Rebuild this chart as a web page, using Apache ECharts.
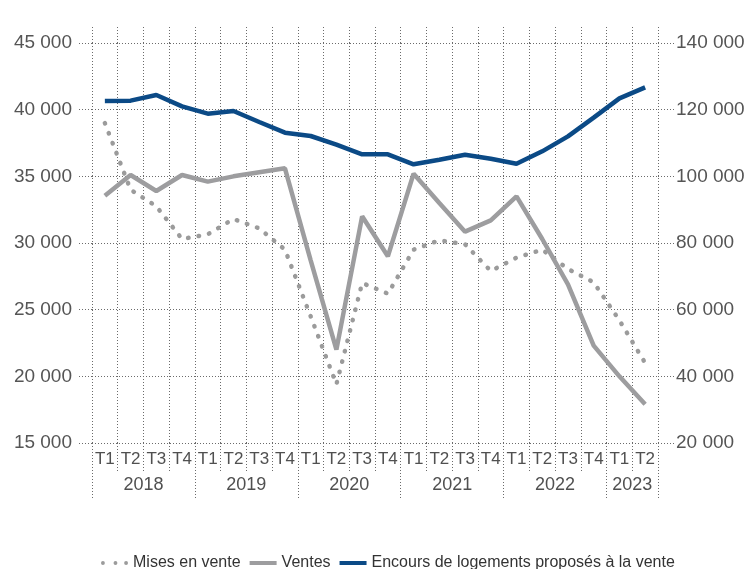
<!DOCTYPE html>
<html>
<head>
<meta charset="utf-8">
<script src="https://cdn.jsdelivr.net/npm/echarts@6/dist/echarts.min.js"></script>
<style>
  html, body { margin: 0; padding: 0; background: #fff; }
  #chart { width: 748px; height: 569px; }
</style>
</head>
<body>
<div id="chart"></div>
<script>
// quarters T1 2018 .. T2 2023
var quarters = ['T1', 'T2', 'T3', 'T4', 'T1', 'T2', 'T3', 'T4', 'T1', 'T2', 'T3', 'T4',
  'T1', 'T2', 'T3', 'T4', 'T1', 'T2', 'T3', 'T4', 'T1', 'T2'];
var years = ['2018', '2019', '2020', '2021', '2022', '2023'];
var yearBounds = [0, 4, 8, 12, 16, 20, 22];   // year separators, in quarters
var yearCenters = [2, 6, 10, 14, 18, 21];

var misesEnVente = [39000, 34000, 32750, 30300, 30650, 31800, 31100, 29500, 24500, 19400, 27000,
  26200, 29500, 30200, 29900, 27900, 28900, 29500, 28050, 27050, 24200, 21000];
var ventes = [33550, 35100, 33900, 35100, 34600, 35000, 35300, 35600, 28700, 22000, 32000,
  29000, 35200, 33000, 30850, 31700, 33500, 30300, 26900, 22300, 20000, 17900];
var encours = [122600, 122700, 124400, 121000, 118800, 119600, 116300, 113100, 112100, 109500, 106600,
  106600, 103600, 105000, 106500, 105300, 103800, 107500, 112000, 117600, 123400, 126700];

var FONT = "'Liberation Sans', Arial, sans-serif";
var GRIDC = '#6b6b6b';
var dots = [1, 2];
var threeDots = 'path://M0,2a2,2 0 1,0 4,0a2,2 0 1,0 -4,0M13,2a2,2 0 1,0 4,0a2,2 0 1,0 -4,0M24,2a2,2 0 1,0 4,0a2,2 0 1,0 -4,0';

function fmt(v) {
  return String(v).replace(/\B(?=(\d{3})+(?!\d))/g, ' ');
}

var chart = echarts.init(document.getElementById('chart'));

var option = {
  animation: false,
  grid: { left: 92, right: 90, top: 43, bottom: 126, containLabel: false },
  legend: {
    left: 96,
    top: 550,
    itemWidth: 27,
    itemHeight: 4,
    itemGap: 9,
    textStyle: { fontFamily: FONT, fontSize: 16, color: '#333' },
    data: [
      { name: 'Mises en vente', icon: threeDots },
      { name: 'Ventes', icon: 'rect' },
      { name: 'Encours de logements proposés à la vente', icon: 'rect' }
    ]
  },
  xAxis: [
    {
      type: 'category',
      data: quarters,
      position: 'bottom',
      axisLine: { show: false },
      axisTick: { show: true, interval: 0, length: 30, lineStyle: { color: GRIDC, type: dots } },
      axisLabel: { interval: 0, margin: 8, fontFamily: FONT, fontSize: 17, color: '#505050' },
      splitLine: { show: true, interval: 0, lineStyle: { color: GRIDC, type: dots } }
    },
    {
      // years row
      type: 'value',
      min: 0,
      max: 22,
      position: 'bottom',
      axisLine: { show: false },
      splitLine: { show: false },
      axisTick: { show: true, length: 57, customValues: yearBounds, lineStyle: { color: GRIDC, type: dots } },
      axisLabel: {
        customValues: yearCenters,
        margin: 33,
        fontFamily: FONT, fontSize: 18, color: '#505050',
        formatter: function (v) { return years[yearCenters.indexOf(v)]; }
      }
    },
    {
      // grid lines above the plot
      type: 'category',
      data: quarters,
      position: 'top',
      axisLine: { show: false },
      axisLabel: { show: false },
      axisTick: { show: true, interval: 0, length: 18, lineStyle: { color: GRIDC, type: dots } },
      splitLine: { show: false }
    }
  ],
  yAxis: [
    {
      type: 'value',
      min: 15000,
      max: 45000,
      interval: 5000,
      position: 'left',
      axisLine: { show: false },
      axisTick: { show: true, length: 14, lineStyle: { color: GRIDC, type: dots } },
      axisLabel: {
        margin: 20, fontFamily: FONT, fontSize: 19, color: '#555',
        padding: [0, 0, 12, 0],
        formatter: fmt
      },
      splitLine: { show: true, lineStyle: { color: GRIDC, type: dots } }
    },
    {
      type: 'value',
      min: 20000,
      max: 140000,
      interval: 20000,
      position: 'right',
      axisLine: { show: false },
      axisTick: { show: true, length: 17, lineStyle: { color: GRIDC, type: dots } },
      axisLabel: { margin: 18, fontFamily: FONT, fontSize: 19, color: '#555', formatter: fmt },
      splitLine: { show: false }
    }
  ],
  series: [
    {
      name: 'Mises en vente',
      type: 'line',
      yAxisIndex: 0,
      data: misesEnVente,
      symbol: 'none',
      itemStyle: { color: '#9b9b9b' },
      lineStyle: { color: '#9b9b9b', width: 4.5, type: [0.5, 10.2], cap: 'round' }
    },
    {
      name: 'Ventes',
      type: 'line',
      yAxisIndex: 0,
      data: ventes,
      symbol: 'none',
      itemStyle: { color: '#9d9d9f' },
      lineStyle: { color: '#9d9d9f', width: 4.5 }
    },
    {
      name: 'Encours de logements proposés à la vente',
      type: 'line',
      yAxisIndex: 1,
      data: encours,
      symbol: 'none',
      itemStyle: { color: '#0b4a86' },
      lineStyle: { color: '#0b4a86', width: 4.5 }
    }
  ]
};

chart.setOption(option);
</script>
</body>
</html>
